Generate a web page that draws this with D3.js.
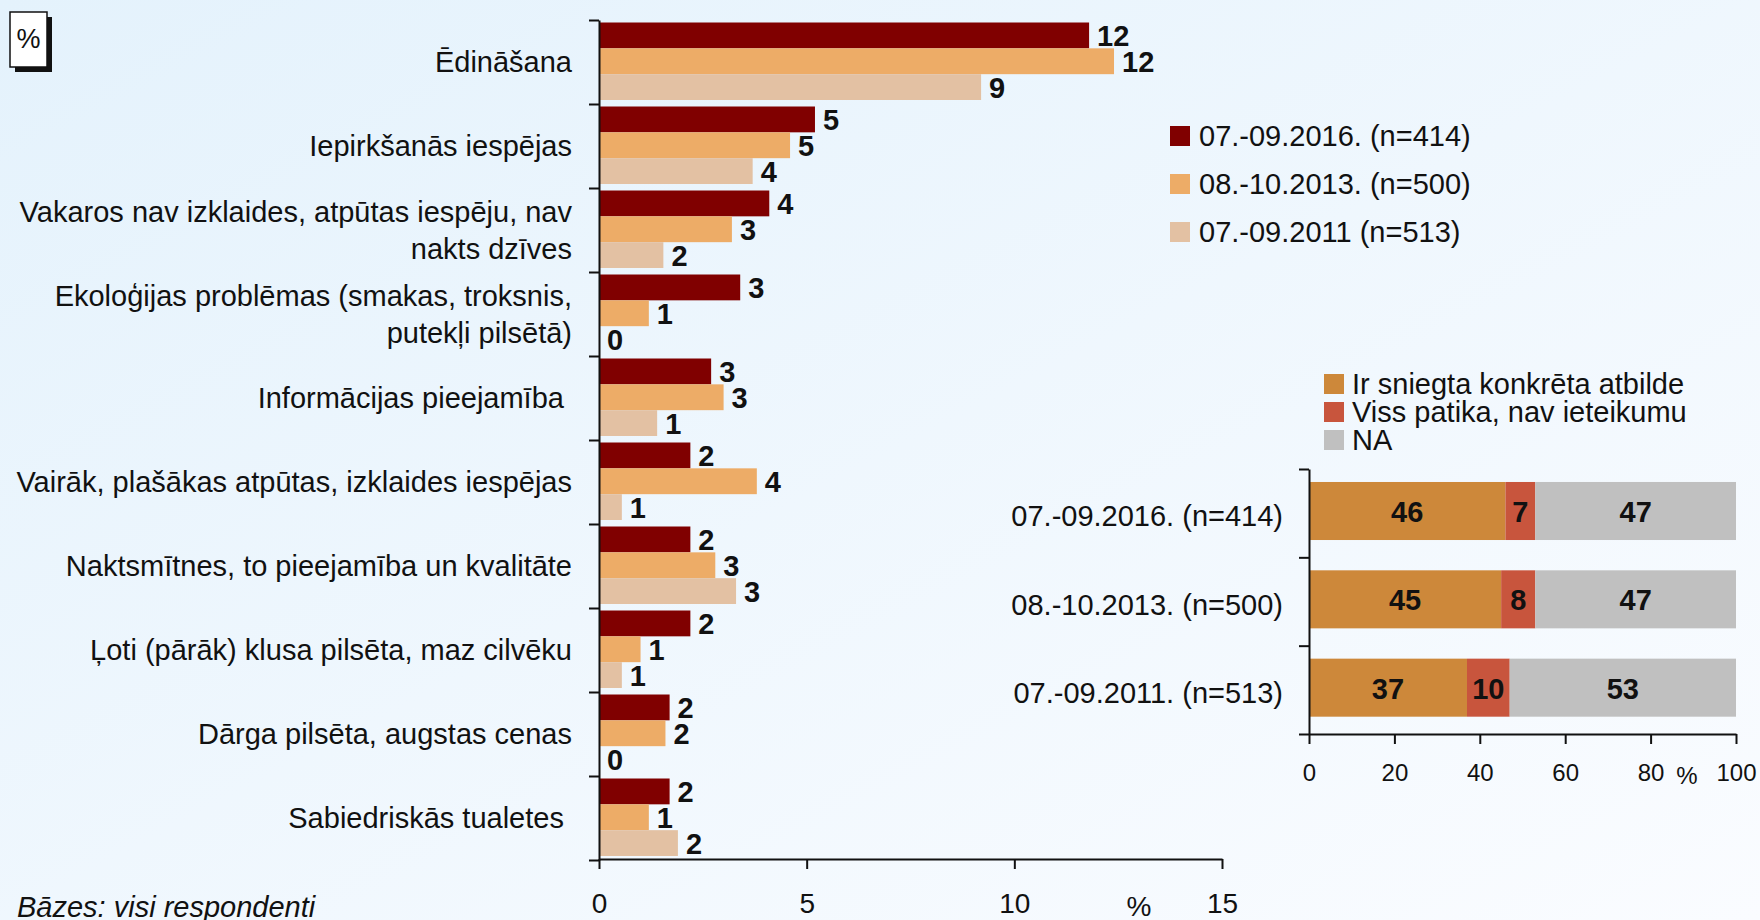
<!DOCTYPE html>
<html>
<head>
<meta charset="utf-8">
<script src="https://cdn.jsdelivr.net/npm/d3@7"></script>
<style>
  html, body { margin: 0; padding: 0; }
  body { width: 1760px; height: 920px; overflow: hidden; }
  svg text { font-family: "Liberation Sans", Arial, sans-serif; fill: #111; }
</style>
</head>
<body>
<svg id="chart" width="1760" height="920"></svg>
<script>
// ---- data (main chart) ----
const categories = [
    "Ēdināšana",
    "Iepirkšanās iespējas",
    "Vakaros nav izklaides, atpūtas iespēju, nav\nnakts dzīves",
    "Ekoloģijas problēmas (smakas, troksnis,\nputekļi pilsētā)",
    "Informācijas pieejamība ",
    "Vairāk, plašākas atpūtas, izklaides iespējas",
    "Naktsmītnes, to pieejamība un kvalitāte",
    "Ļoti (pārāk) klusa pilsēta, maz cilvēku",
    "Dārga pilsēta, augstas cenas",
    "Sabiedriskās tualetes "
];
const seriesNames = ["07.-09.2016. (n=414)", "08.-10.2013. (n=500)", "07.-09.2011 (n=513)"];
const values2016 = [11.8, 5.2, 4.1, 3.4, 2.7, 2.2, 2.2, 2.2, 1.7, 1.7];
const values2013 = [12.4, 4.6, 3.2, 1.2, 3.0, 3.8, 2.8, 1.0, 1.6, 1.2];
const values2011 = [9.2, 3.7, 1.55, 0, 1.4, 0.55, 3.3, 0.55, 0, 1.9];
const mainTicks = [0, 5, 10, 15];

// ---- data (small stacked chart) ----
const waves = ["07.-09.2016. (n=414)", "08.-10.2013. (n=500)", "07.-09.2011. (n=513)"];
const answerKeys = ["Ir sniegta konkrēta atbilde", "Viss patika, nav ieteikumu", "NA"];
const answered = [46, 45, 37];
const satisfied = [7, 8, 10];
const noAnswer = [47, 47, 53];
const stackTicks = [0, 20, 40, 60, 80, 100];

const seriesColors = ["#800000", "#EDAC67", "#E3C1A3"];
const stackColors = ["#CD883A", "#C8553D", "#C0C0C0"];

const FS = "29px";

const svg = d3.select("#chart");

// background gradient
let defs = svg.append("defs");
let grad = defs.append("linearGradient").attr("id", "bg")
    .attr("x1", "0").attr("y1", "0").attr("x2", "1").attr("y2", "1");
grad.append("stop").attr("offset", "0%").attr("stop-color", "#E4F2FC");
grad.append("stop").attr("offset", "100%").attr("stop-color", "#FAFCFF");
svg.append("rect").attr("width", 1760).attr("height", 920).attr("fill", "url(#bg)");

// "%" box top-left
svg.append("rect").attr("x", 15).attr("y", 17).attr("width", 37).attr("height", 55).attr("fill", "#111");
svg.append("rect").attr("x", 10).attr("y", 12).attr("width", 37).attr("height", 55)
    .attr("fill", "#fff").attr("stroke", "#111").attr("stroke-width", 1.5);
svg.append("text").attr("x", 28.5).attr("y", 39).attr("text-anchor", "middle")
    .attr("dominant-baseline", "central").style("font-size", "27px").text("%");

// ================= main grouped bar chart =================
const rows = categories.map((c, i) => ({
    name: c,
    vals: [values2016[i], values2013[i], values2011[i]]
}));

let x = d3.scaleLinear().domain([0, 15]).range([599, 1222]);
let y = d3.scaleBand().domain(categories).range([20, 860]);
let yInner = d3.scaleBand().domain(d3.range(3)).range([2.5, 80]);

let main = svg.append("g");

let groups = main.selectAll("g.cat").data(rows).enter().append("g")
    .attr("class", "cat")
    .attr("transform", d => "translate(0," + y(d.name) + ")");

groups.selectAll("rect").data(d => d.vals).enter().append("rect")
    .attr("x", x(0))
    .attr("y", (d, i) => yInner(i))
    .attr("height", yInner.bandwidth())
    .attr("width", d => x(d) - x(0))
    .attr("fill", (d, i) => seriesColors[i]);

groups.selectAll("text.val").data(d => d.vals).enter().append("text")
    .attr("class", "val")
    .attr("x", d => x(d) + 8)
    .attr("y", (d, i) => yInner(i) + yInner.bandwidth() / 2 + 1)
    .attr("dominant-baseline", "central")
    .style("font-size", FS).style("font-weight", "bold")
    .text(d => Math.round(d));

// category labels (may be two lines)
groups.append("text")
    .attr("xml:space", "preserve")
    .attr("text-anchor", "end")
    .style("font-size", FS)
    .each(function (d) {
        let lines = d.name.split("\n");
        let t = d3.select(this);
        lines.forEach((l, k) => {
            t.append("tspan")
                .attr("x", 572)
                .attr("y", y.bandwidth() / 2 + (k - (lines.length - 1) / 2) * 37)
                .attr("dominant-baseline", "central")
                .text(l);
        });
    });

// axes
let yEdges = d3.scaleLinear().domain([0, categories.length]).range([20, 860]);
main.append("g")
    .attr("transform", "translate(" + x(0) + ",0)")
    .call(d3.axisLeft(yEdges).ticks(categories.length).tickSize(10).tickSizeOuter(0).tickFormat(""))
    .call(g => g.selectAll("line,path").attr("stroke", "#111").attr("stroke-width", 2));

main.append("g")
    .attr("transform", "translate(0,859)")
    .call(d3.axisBottom(x).tickValues(mainTicks).tickSize(10).tickSizeOuter(0).tickPadding(24))
    .call(g => g.selectAll("line,path").attr("stroke", "#111").attr("stroke-width", 2))
    .call(g => g.selectAll("text").style("font-size", "28px").attr("fill", "#111")
        .style("font-family", "'Liberation Sans', Arial, sans-serif"));

main.append("text").attr("x", x(13)).attr("y", 906).attr("text-anchor", "middle")
    .attr("dominant-baseline", "central").style("font-size", "28px").text("%");

// legend for series
let leg = svg.append("g").attr("transform", "translate(1170,0)");
seriesNames.forEach((s, i) => {
    let cy = 136 + i * 48;
    leg.append("rect").attr("x", 0).attr("y", cy - 10).attr("width", 20).attr("height", 20)
        .attr("fill", seriesColors[i]);
    leg.append("text").attr("x", 29).attr("y", cy).attr("dominant-baseline", "central")
        .style("font-size", FS).text(s);
});

// ================= stacked bar chart =================
const stackRows = waves.map((w, i) => ({
    wave: w, a: answered[i], b: satisfied[i], c: noAnswer[i]
}));
let stack = d3.stack().keys(["a", "b", "c"])(stackRows);

let x2 = d3.scaleLinear().domain([0, 100]).range([1309, 1736]);
let y2 = d3.scaleBand().domain(waves).range([469, 734]);
let barOff = y2.bandwidth() * 0.147, barH = y2.bandwidth() * 0.657;

let side = svg.append("g");

stack.forEach((layer, k) => {
    let lg = side.append("g");
    lg.selectAll("rect").data(layer).enter().append("rect")
        .attr("x", d => x2(d[0]))
        .attr("width", d => x2(d[1]) - x2(d[0]))
        .attr("y", d => y2(d.data.wave) + barOff)
        .attr("height", barH)
        .attr("fill", stackColors[k]);
    lg.selectAll("text").data(layer).enter().append("text")
        .attr("x", d => (x2(d[0]) + x2(d[1])) / 2)
        .attr("y", d => y2(d.data.wave) + barOff + barH / 2 + 1)
        .attr("text-anchor", "middle")
        .attr("dominant-baseline", "central")
        .style("font-size", FS).style("font-weight", "bold")
        .text(d => d[1] - d[0]);
});

side.selectAll("text.wave").data(waves).enter().append("text")
    .attr("class", "wave")
    .attr("x", 1283)
    .attr("y", d => y2(d) + y2.bandwidth() / 2 + 3)
    .attr("text-anchor", "end")
    .attr("dominant-baseline", "central")
    .style("font-size", FS)
    .text(d => d);

let y2Edges = d3.scaleLinear().domain([0, waves.length]).range([469, 734]);
side.append("g")
    .attr("transform", "translate(" + x2(0) + ",0)")
    .call(d3.axisLeft(y2Edges).ticks(waves.length).tickSize(10).tickSizeOuter(0).tickFormat(""))
    .call(g => g.selectAll("line,path").attr("stroke", "#111").attr("stroke-width", 2));

side.append("g")
    .attr("transform", "translate(0,734)")
    .call(d3.axisBottom(x2).tickValues(stackTicks).tickSize(10).tickSizeOuter(0).tickPadding(20))
    .call(g => g.selectAll("line,path").attr("stroke", "#111").attr("stroke-width", 2))
    .call(g => g.selectAll("text").style("font-size", "24px").attr("fill", "#111")
        .style("font-family", "'Liberation Sans', Arial, sans-serif"));

side.append("text").attr("x", x2(88.5)).attr("y", 775).attr("text-anchor", "middle")
    .attr("dominant-baseline", "central").style("font-size", "24px").text("%");

// legend for stacked chart
let leg2 = svg.append("g").attr("transform", "translate(1324,0)");
answerKeys.forEach((s, i) => {
    let cy = 384 + i * 28;
    leg2.append("rect").attr("x", 0).attr("y", cy - 10).attr("width", 20).attr("height", 20)
        .attr("fill", stackColors[i]);
    leg2.append("text").attr("x", 28).attr("y", cy).attr("dominant-baseline", "central")
        .style("font-size", FS).text(s);
});

// footnote
svg.append("text").attr("x", 17).attr("y", 917)
    .style("font-size", FS).style("font-style", "italic")
    .text("Bāzes: visi respondenti");
</script>
</body>
</html>
